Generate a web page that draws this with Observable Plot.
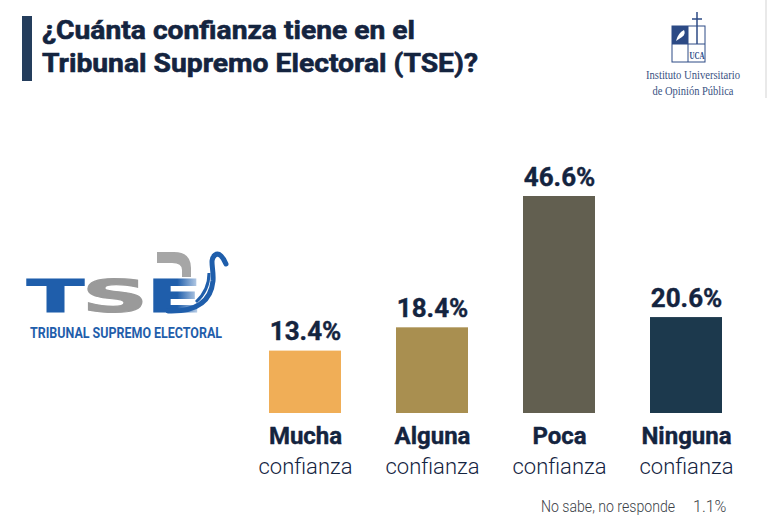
<!DOCTYPE html>
<html><head><meta charset="utf-8">
<script src="https://cdn.jsdelivr.net/npm/d3@7"></script>
<script src="https://cdn.jsdelivr.net/npm/@observablehq/plot@0.6"></script>
<style>
body{margin:0;background:#fff;}
#wrap{position:relative;width:769px;height:521px;overflow:hidden;background:#fff;font-family:Roboto, sans-serif;}
#wrap svg{position:absolute;left:0;top:0;}
</style></head><body>
<div id="wrap"></div>
<script>
// ---- data ----
const categories = ["Mucha", "Alguna", "Poca", "Ninguna"];
const subLabel = "confianza";
const values = [13.4, 18.4, 46.6, 20.6];
const barColors = ["#F0AE57", "#A98F50", "#625F50", "#1C394D"];
const titleLines = ["¿Cuánta confianza tiene en el", "Tribunal Supremo Electoral (TSE)?"];
const noAnswerLabel = "No sabe, no responde";
const noAnswerValue = 1.1;
const tseLetters = ["T", "S", "E"];
const tseName = "TRIBUNAL SUPREMO ELECTORAL";
const ucaLines = ["Instituto Universitario", "de Opinión Pública"];
const ucaMark = "UCA";

const ink = "#14243f";
const data = categories.map((c, i) => ({cat: c, value: values[i]}));

const chart = Plot.plot({
  width: 769, height: 521, margin: 0,
  style: {background: "transparent", fontFamily: "Roboto, sans-serif", color: ink},
  x: {domain: categories, range: [241, 751], paddingInner: 0.43, paddingOuter: 0.215, axis: null},
  y: {domain: [0, 46.6], range: [413, 196], axis: null},
  color: {domain: categories, range: barColors},
  marks: [
    Plot.barY(data, {x: "cat", y: "value", fill: "cat"}),
    Plot.text(data, {x: "cat", y: "value", text: d => d.value.toFixed(1) + "%", lineAnchor: "bottom", dy: -11, fontSize: 26, fontWeight: 700, fill: ink, stroke: ink, strokeWidth: 0.4}),
    Plot.text(data, {x: "cat", y: 0, text: "cat", lineAnchor: "bottom", dy: 30, fontSize: 24, fontWeight: 700, fill: ink, stroke: ink, strokeWidth: 0.4}),
    Plot.text(data, {x: "cat", y: 0, text: () => subLabel, lineAnchor: "bottom", dy: 60, fontSize: 22, fontWeight: 300, fill: ink})
  ]
});
document.getElementById("wrap").appendChild(chart);

// ---- decorations: title, logos, note ----
const ns = "http://www.w3.org/2000/svg";
const deco = d3.select("#wrap").append("svg").attr("xmlns", ns).attr("width", 769).attr("height", 521).style("pointer-events", "none");

// title bar + title
deco.append("rect").attr("x", 22).attr("y", 16).attr("width", 10).attr("height", 65).attr("fill", "#243d5c");
const titleW = [373, 436];
const titleY = [39, 72];
titleLines.forEach((t, i) => {
  deco.append("text").attr("x", 42).attr("y", titleY[i]).attr("font-family", "Roboto, sans-serif").attr("font-weight", 700)
    .attr("font-size", 26).attr("fill", ink).attr("stroke", ink).attr("stroke-width", 0.6)
    .attr("textLength", titleW[i]).attr("lengthAdjust", "spacingAndGlyphs").text(t);
});

// UCA logo
deco.append("line").attr("x1", 766).attr("x2", 766).attr("y1", 0).attr("y2", 98).attr("stroke", "#e2e2e2").attr("stroke-width", 1.5);
const ucaBlue = "#2c4a85";
const g = deco.append("g");
g.append("rect").attr("x", 672).attr("y", 26).attr("width", 33).attr("height", 36).attr("fill", "none").attr("stroke", ucaBlue).attr("stroke-width", 1);
g.append("rect").attr("x", 672).attr("y", 26).attr("width", 16).attr("height", 18).attr("fill", ucaBlue);
g.append("path").attr("d", "M676,41 Q678,33 684,30 Q686,34 682,37 Q679,39 676,41 Z").attr("fill", "#fff");
g.append("line").attr("x1", 688).attr("x2", 688).attr("y1", 26).attr("y2", 62).attr("stroke", ucaBlue).attr("stroke-width", 1);
g.append("line").attr("x1", 672).attr("x2", 705).attr("y1", 44).attr("y2", 44).attr("stroke", ucaBlue).attr("stroke-width", 1);
g.append("line").attr("x1", 697).attr("x2", 697).attr("y1", 12).attr("y2", 44).attr("stroke", ucaBlue).attr("stroke-width", 1.5);
g.append("line").attr("x1", 692).attr("x2", 702).attr("y1", 19).attr("y2", 19).attr("stroke", ucaBlue).attr("stroke-width", 1.5);
g.append("text").attr("x", 697).attr("y", 59).attr("text-anchor", "middle").attr("font-family", "Liberation Serif, serif").attr("font-weight", 700)
  .attr("font-size", 10).attr("fill", ucaBlue).attr("textLength", 15).attr("lengthAdjust", "spacingAndGlyphs").text(ucaMark);
const ucaW = [94, 81], ucaY = [79, 95];
ucaLines.forEach((t, i) => {
  g.append("text").attr("x", 693).attr("y", ucaY[i]).attr("text-anchor", "middle").attr("font-family", "Liberation Serif, serif")
    .attr("font-size", 13).attr("fill", "#3a5283").attr("textLength", ucaW[i]).attr("lengthAdjust", "spacingAndGlyphs").text(t);
});

// TSE logo
const tseBlue = "#1f5eab", tseGray = "#9a9a9a";
const defs = deco.append("defs");
const grad = defs.append("linearGradient").attr("id", "eg").attr("x1", "0").attr("x2", "1");
grad.append("stop").attr("offset", "0.55").attr("stop-color", tseBlue);
grad.append("stop").attr("offset", "1").attr("stop-color", "#dbe6f3");
const tseFill = [tseBlue, tseGray, "url(#eg)"];
const tseX = [27, 82, 147], tseW = [57, 66, 55];
tseLetters.forEach((l, i) => {
  deco.append("text").attr("x", tseX[i]).attr("y", 312).attr("font-family", "DejaVu Sans, sans-serif").attr("font-weight", 700)
    .attr("font-size", 44).attr("textLength", tseW[i]).attr("lengthAdjust", "spacingAndGlyphs")
    .attr("fill", tseFill[i]).attr("stroke", tseFill[i]).attr("stroke-width", 1.2).text(l);
});
deco.append("path").attr("d", "M157,252 L174,252 Q191,252 191,268 L191,277 L182,277 L182,270 Q182,263 172,263 L157,263 Z").attr("fill", "#a6a6a6");
deco.append("path").attr("d", "M168,311 C198,312 211,300 213,281 C214,268 209,260 215,255 C219,252 223,257 226,264")
  .attr("fill", "none").attr("stroke", tseBlue).attr("stroke-width", 5).attr("stroke-linecap", "round");
deco.append("path").attr("d", "M196,302 C205,294 209,285 209,273").attr("fill", "none").attr("stroke", tseBlue).attr("stroke-width", 3);
deco.append("text").attr("x", 30).attr("y", 338).attr("font-family", "Roboto, sans-serif").attr("font-weight", 700)
  .attr("font-size", 14).attr("fill", tseBlue).attr("textLength", 192).attr("lengthAdjust", "spacingAndGlyphs").text(tseName);

// note
deco.append("text").attr("x", 541).attr("y", 512).attr("font-family", "Roboto, sans-serif").attr("font-weight", 300)
  .attr("font-size", 16).attr("fill", "#3b3f48").attr("textLength", 134).attr("lengthAdjust", "spacingAndGlyphs").text(noAnswerLabel);
deco.append("text").attr("x", 693).attr("y", 512).attr("font-family", "Roboto, sans-serif").attr("font-weight", 300)
  .attr("font-size", 16).attr("fill", "#3b3f48").text(noAnswerValue.toFixed(1) + "%");
</script>
</body></html>
